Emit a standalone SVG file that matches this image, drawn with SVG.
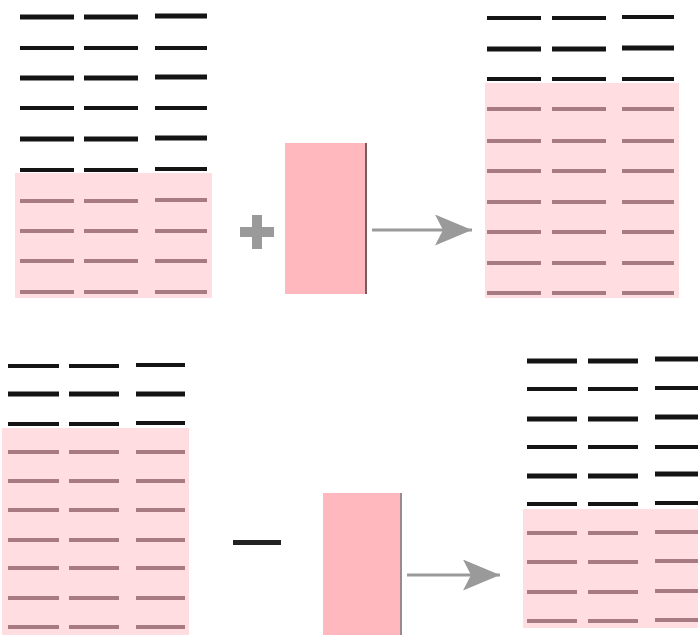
<svg xmlns="http://www.w3.org/2000/svg" width="698" height="635" viewBox="0 0 698 635">
<defs>
<style>
.bg{fill:#ffffff}
.pink{fill:#ffdde1}
.blk{stroke:#141414;stroke-width:4;stroke-linecap:butt}
.blk.t{stroke-width:5}
.dsh{stroke:#a87a82;stroke-width:4}
.slab{fill:#ffb8bd}
.edge{stroke:#7a5a5e;stroke-width:2}
.sym{fill:#9a9a9a}
.conn{stroke:#9a9a9a;stroke-width:3;fill:none}
</style>
<marker id="ah" markerUnits="userSpaceOnUse" markerWidth="40" markerHeight="34" refX="37" refY="15.5" orient="auto">
<path d="M0,0 L37,15.5 L0,31 L8,15.5 Z" fill="#9a9a9a"/>
</marker>
</defs>
<rect class="bg" x="0" y="0" width="698" height="635"/>

<g id="stack-top-left">
<rect class="pink" x="15" y="173" width="197" height="125"/>
<g class="blk">
<path class="blk t" d="M20,17H74M84,17H138M155,16H207"/>
<path d="M20,48H74M84,48H138M155,48H207"/>
<path class="blk t" d="M20,78H74M84,78H138M155,77H207"/>
<path d="M20,108H74M84,108H138M155,108H207"/>
<path class="blk t" d="M20,139H74M84,139H138M155,138H207"/>
<path d="M20,170H74M84,170H138M155,169H207"/>
</g>
<path class="dsh" d="M20,201H74M84,201H138M155,200H207M20,231H74M84,231H138M155,231H207M20,261H74M84,261H138M155,261H207M20,292H74M84,292H138M155,292H207"/>
</g>

<g id="plus">
<rect class="sym" x="240" y="227" width="34" height="10"/>
<rect class="sym" x="252" y="215" width="10" height="34"/>
</g>

<g id="slab-top">
<rect class="slab" x="285" y="143" width="82" height="151"/>
<line class="edge" x1="366" y1="143" x2="366" y2="294"/>
</g>

<g id="stack-top-right">
<rect class="pink" x="485" y="83" width="194" height="215"/>
<path class="blk" d="M487,18H541M552,18H606M622,17H674"/>
<path class="blk t" d="M487,49H541M552,49H606M622,48H674"/>
<path class="blk" d="M487,79H541M552,79H606M622,79H674"/>
<path class="dsh" d="M487,109H541M552,109H606M622,109H674M487,141H541M552,141H606M622,141H674M487,171H541M552,171H606M622,171H674M487,202H541M552,202H606M622,202H674M487,232H541M552,232H606M622,232H674M487,263H541M552,263H606M622,263H674M487,293H541M552,293H606M622,293H674"/>
</g>

<g id="stack-bottom-left">
<rect class="pink" x="2" y="428" width="187" height="207"/>
<path class="blk" d="M8,366H59M69,366H119M136,365H185"/>
<path class="blk t" d="M8,394H59M69,394H119M136,394H185"/>
<path class="blk" d="M8,424H59M69,424H119M136,423H185"/>
<path class="dsh" d="M8,452H59M69,452H119M136,452H185M8,481H59M69,481H119M136,481H185M8,510H59M69,510H119M136,510H185M8,540H59M69,540H119M136,540H185M8,568H59M69,568H119M136,568H185M8,598H59M69,598H119M136,598H185M8,627H59M69,627H119M136,627H185"/>
</g>

<g id="minus">
<rect x="233" y="540" width="48" height="5" fill="#222"/>
</g>

<g id="slab-bottom">
<rect class="slab" x="323" y="493" width="79" height="142"/>
<line class="edge" x1="401" y1="493" x2="401" y2="635" style="stroke:#9a8a8c"/>
</g>

<g id="stack-bottom-right">
<rect class="pink" x="523" y="509" width="175" height="119"/>
<path class="blk t" d="M527,361H577M588,361H638M655,359H698"/>
<path class="blk" d="M527,389H577M588,389H638M655,388H698"/>
<path class="blk t" d="M527,419H577M588,419H638M655,417H698"/>
<path class="blk" d="M527,447H577M588,447H638M655,447H698"/>
<path class="blk t" d="M527,476H577M588,476H638M655,474H698"/>
<path class="blk" d="M527,504H577M588,504H638M655,503H698"/>
<path class="dsh" d="M527,533H577M588,533H638M655,532H698M527,562H577M588,562H638M655,561H698M527,592H577M588,592H638M655,591H698M527,621H577M588,621H638M655,620H698"/>
</g>

<g id="connectors">
<line class="conn" x1="372" y1="230" x2="472" y2="230" marker-end="url(#ah)"/>
<line class="conn" x1="407" y1="575" x2="500" y2="575" marker-end="url(#ah)"/>
</g>
</svg>
